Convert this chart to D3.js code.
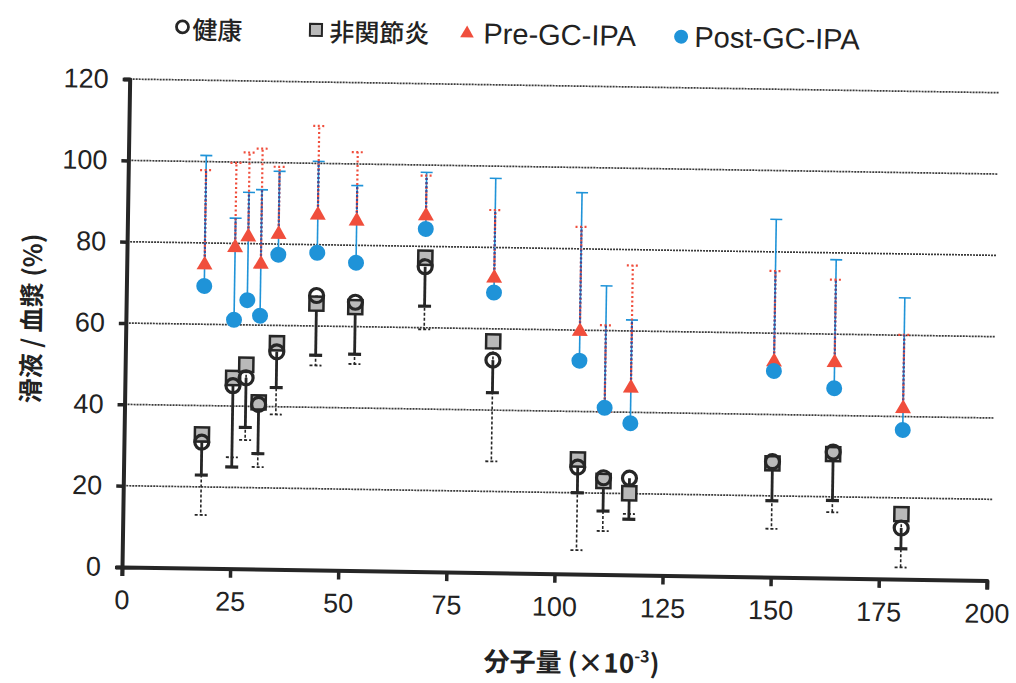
<html>
<head>
<meta charset="utf-8">
<script src="https://d3js.org/d3.v7.min.js"></script>
<style>
body { margin: 0; background: white; }
svg text { font-family: "Liberation Sans", Arial, sans-serif; fill: #222; }
.cjk { font-family: "Noto Sans CJK JP", sans-serif; }
</style>
</head>
<body>
<svg id="chart" width="1016" height="683"></svg>
<script>
// molecular weight (x10^-3)
var mw = [18, 25, 28, 31, 35, 44, 53, 69, 85, 105, 111, 117, 150, 164, 180];

// healthy (open circle) mean and lower end of error bar
var healthy    = [31, 45, 47, 40.5, 53.5, 67.5, 66, 75, 52.3, 26.3, 23.8, 23.8, 28.4, 31, 12.6];
var healthyLow = [22.9, 25, 34.8, 28.4, 44.7, 52.8, 53.2, 65.3, 44.3, 20, 15.6, 13.7, 18.8, 19.1, 7.5];

// non-arthritis (grey square)
var nonArth    = [32.9, 46.9, 50.2, 41, 55.6, 65.5, 64.8, 77.2, 56.9, 28.2, 23, 20.1, 28, 30.5, 16];
var nonArthLow = [13.1, 27.4, 31.7, 25.1, 38.1, 50.3, 50.8, 59.6, 27.4, 5.9, 10.7, 15, 11.9, 16.2, 2.9];

// Pre-GC-IPA (red triangle) and upper end of error bar
var pre    = [74.6, 79, 81.7, 75, 82.4, 87.3, 86, 87.5, 72.5, 59.7, 41, 46, 53, 53, 42];
var preTop = [97.9, 99.8, 102.4, 103.4, 99, 109.2, 102.9, 97.4, 89.2, 85.4, 61.3, 76.1, 75.3, 73.4, 60.1];

// Post-GC-IPA (blue circle)
var post    = [69.4, 61.2, 66.1, 62.3, 77.4, 78, 75.7, 84.3, 68.9, 52.5, 41, 37.3, 50.7, 46.7, 36.7];
var postTop = [101.5, 86.2, 92.6, 93.3, 97.9, 100.5, 94.7, 98.2, 97, 93.8, 71, 62.7, 88, 78.3, 69.2];

var xTicks = [0, 25, 50, 75, 100, 125, 150, 175, 200];
var yTicks = [0, 20, 40, 60, 80, 100, 120];
var legendLabels = ["健康", "非関節炎", "Pre-GC-IPA", "Post-GC-IPA"];

var red = "#f04e3c", blue = "#1f93d8", navy = "#3a4c9a", dark = "#262626";

var W = 865, H = 488;
var svg = d3.select("#chart");
svg.append("rect").attr("width", 1016).attr("height", 683).attr("fill", "white");

// the scanned figure is tilted a little
var root = svg.append("g").attr("transform", "rotate(0.9,122,567)");
var g = root.append("g").attr("transform", "translate(122,567)");

var x = d3.scaleLinear().domain([0, 200]).range([0, W]);
var y = d3.scaleLinear().domain([0, 120]).range([0, -H]);

// gridlines
g.selectAll(".grid").data(yTicks.filter(function(d){ return d > 0; })).enter()
  .append("line")
  .attr("x1", 0).attr("x2", W + 4)
  .attr("y1", function(d){ return y(d); }).attr("y2", function(d){ return y(d); })
  .attr("stroke", "#3a3a3a").attr("stroke-width", 1.7).attr("stroke-dasharray", "2,1");

// axes
var ya = g.append("g").call(d3.axisLeft(y).tickValues(yTicks).tickSize(7).tickSizeOuter(6).tickPadding(14));
var xa = g.append("g").call(d3.axisBottom(x).tickValues(xTicks).tickSize(9).tickSizeOuter(9).tickPadding(14));
[ya, xa].forEach(function(a) {
  a.select(".domain").attr("stroke", dark).attr("stroke-width", 4).attr("stroke-linejoin", "round");
  a.selectAll(".tick line").attr("stroke", dark).attr("stroke-width", 3.5);
  a.selectAll(".tick text").attr("font-size", 27).attr("font-family", "Liberation Sans, Arial").attr("fill", "#2a2a2a");
});

var idx = d3.range(mw.length);

function bar(sel, top, bottom, color, width, dash) {
  sel.append("line")
    .attr("x1", function(i){ return x(mw[i]); }).attr("x2", function(i){ return x(mw[i]); })
    .attr("y1", function(i){ return y(top[i]); }).attr("y2", function(i){ return y(bottom[i]); })
    .attr("stroke", color).attr("stroke-width", width).attr("stroke-dasharray", dash);
}
function cap(sel, vals, color, width, half, dash) {
  sel.append("line")
    .attr("x1", function(i){ return x(mw[i]) - half; }).attr("x2", function(i){ return x(mw[i]) + half; })
    .attr("y1", function(i){ return y(vals[i]); }).attr("y2", function(i){ return y(vals[i]); })
    .attr("stroke", color).attr("stroke-width", width).attr("stroke-dasharray", dash);
}

var bars = g.append("g").selectAll("g").data(idx).enter().append("g");

// lower error bars
bar(bars, nonArth, nonArthLow, dark, 1.6, "3,2");
cap(bars, nonArthLow, dark, 1.8, 6, "3,2");
bar(bars, healthy, healthyLow, dark, 2.8, null);
cap(bars, healthyLow, dark, 3.2, 6.5, null);

// upper error bars
bar(bars, post, postTop, blue, 1.6, null);
cap(bars, postTop, blue, 1.6, 6, null);
bar(bars, pre, preTop, red, 2.2, "2,2.5");
cap(bars, preTop, red, 2.2, 6, "2,2.5");
var overlapTop = idx.map(function(i){ return Math.min(preTop[i], postTop[i]); });
bar(bars, pre, overlapTop, navy, 2.2, "2,2");

// markers
var sq = d3.symbol().type(d3.symbolSquare).size(200);
var tri = d3.symbol().type(d3.symbolTriangle).size(110);

g.append("g").selectAll("path").data(idx).enter().append("path")
  .attr("d", sq)
  .attr("transform", function(i){ return "translate(" + x(mw[i]) + "," + y(nonArth[i]) + ")"; })
  .attr("fill", "#b9b9b9").attr("stroke", dark).attr("stroke-width", 2.5);

g.append("g").selectAll("circle").data(idx).enter().append("circle")
  .attr("cx", function(i){ return x(mw[i]); }).attr("cy", function(i){ return y(healthy[i]); })
  .attr("r", 7).attr("fill", "none").attr("stroke", dark).attr("stroke-width", 3.2);

g.append("g").selectAll("path").data(idx).enter().append("path")
  .attr("d", tri)
  .attr("transform", function(i){ return "translate(" + x(mw[i]) + "," + y(pre[i]) + ")"; })
  .attr("fill", red);

g.append("g").selectAll("circle").data(idx).enter().append("circle")
  .attr("cx", function(i){ return x(mw[i]); }).attr("cy", function(i){ return y(post[i]); })
  .attr("r", 8).attr("fill", blue);

// legend
var lg = root.append("g");
lg.append("circle").attr("cx", 174).attr("cy", 26).attr("r", 6)
  .attr("fill", "none").attr("stroke", dark).attr("stroke-width", 2.8);
lg.append("rect").attr("x", 301.5).attr("y", 21).attr("width", 12).attr("height", 12)
  .attr("fill", "#b9b9b9").attr("stroke", dark).attr("stroke-width", 2);
lg.append("path").attr("d", d3.symbol().type(d3.symbolTriangle).size(80))
  .attr("transform", "translate(458.6,28)").attr("fill", red);
lg.append("circle").attr("cx", 672.7).attr("cy", 28).attr("r", 7).attr("fill", blue);

var lx = [184, 321, 475, 686];
lg.selectAll("text").data(legendLabels).enter().append("text")
  .attr("x", function(d, i){ return lx[i]; })
  .attr("y", 38)
  .attr("class", function(d, i){ return i < 2 ? "cjk" : null; })
  .attr("font-size", function(d, i){ return i < 2 ? 25 : 29; })
  .attr("font-weight", function(d, i){ return i < 2 ? 500 : null; })
  .text(function(d){ return d; });

// axis titles
g.append("text")
  .attr("class", "cjk")
  .attr("transform", "translate(-85,-247) rotate(-90)")
  .attr("text-anchor", "middle")
  .attr("font-size", 25).attr("font-weight", "bold")
  .text("滑液 / 血漿 (%)");

var xt = g.append("text")
  .attr("class", "cjk")
  .attr("x", 451).attr("y", 98)
  .attr("text-anchor", "middle")
  .attr("font-size", 26).attr("font-weight", "bold");
xt.append("tspan").text("分子量 (×10");
xt.append("tspan").attr("font-size", 16).attr("dy", -11).text("-3");
xt.append("tspan").attr("dy", 11).text(")");
</script>
</body>
</html>
